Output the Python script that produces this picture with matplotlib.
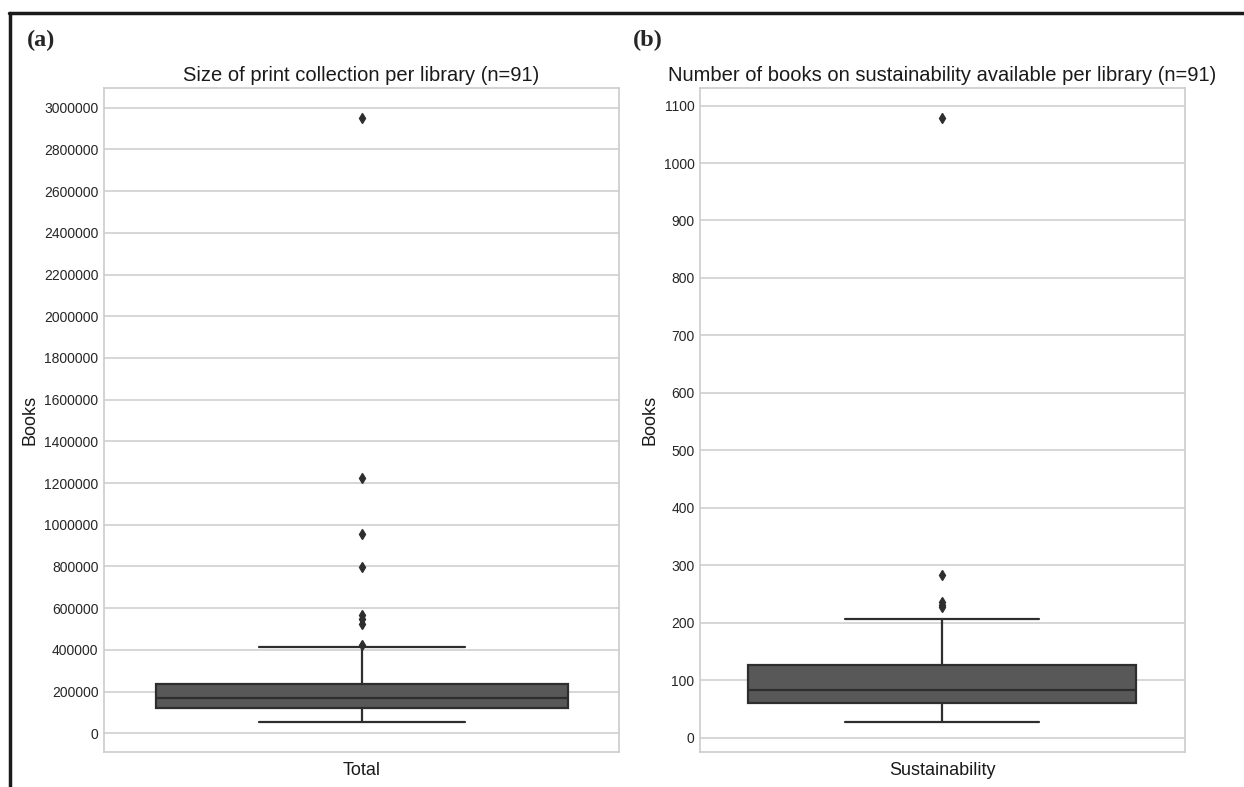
import matplotlib
matplotlib.use('Agg')
import matplotlib.pyplot as plt
from matplotlib.lines import Line2D
import seaborn as sns

sns.set_style('whitegrid')
plt.rcParams['font.family'] = ['Liberation Sans', 'DejaVu Sans']

# Box statistics
total_label = 'Total'
total_q1, total_med, total_q3 = 121000, 171000, 237000
total_whislo, total_whishi = 55000, 414000
total_fliers = [425000, 525000, 548000, 568000, 798000, 955000, 1223000, 2950000]
total_ticks = list(range(0, 3000001, 200000))

sust_label = 'Sustainability'
sust_q1, sust_med, sust_q3 = 60, 84, 126
sust_whislo, sust_whishi = 28, 206
sust_fliers = [228, 232, 236, 283, 1078]
sust_ticks = list(range(0, 1101, 100))

box_face = '#585858'
line_col = '#2e2e2e'

fig = plt.figure(figsize=(12.44, 7.87), dpi=100)
ax1 = fig.add_axes([0.0836, 0.0445, 0.4140, 0.8437])
ax2 = fig.add_axes([0.5627, 0.0445, 0.3898, 0.8437])


def draw_box(ax, label, q1, med, q3, lo, hi, fliers, ticks, title):
    stats = [dict(label=label, q1=q1, med=med, q3=q3, whislo=lo, whishi=hi, fliers=fliers)]
    ax.bxp(stats, positions=[0], widths=0.8, patch_artist=True, showfliers=True,
           boxprops=dict(facecolor=box_face, edgecolor=line_col, linewidth=1.6),
           medianprops=dict(color=line_col, linewidth=1.6),
           whiskerprops=dict(color=line_col, linewidth=1.6),
           capprops=dict(color=line_col, linewidth=1.6),
           flierprops=dict(marker='d', markerfacecolor=line_col, markeredgecolor=line_col,
                           markersize=5.5, linestyle='none'))
    ax.set_xlim(-0.5, 0.5)
    allv = [lo, hi] + fliers
    rng = max(allv) - min(allv)
    ax.set_ylim(min(allv) - 0.05 * rng, max(allv) + 0.05 * rng)
    ax.set_yticks(ticks)
    ax.set_yticklabels([str(t) for t in ticks], fontsize=10, color='#262626')
    ax.tick_params(axis='x', labelsize=13, colors='#1a1a1a', length=0, pad=7)
    ax.tick_params(axis='y', length=0, pad=4)
    ax.xaxis.grid(False)
    ax.yaxis.grid(True, color='#cccccc', linewidth=1.1)
    for s in ax.spines.values():
        s.set_color('#cccccc')
        s.set_linewidth(1.2)
    ax.set_ylabel('Books', fontsize=13, color='#1a1a1a')
    ax.set_title(title, fontsize=14.5, color='#1a1a1a', pad=5)


draw_box(ax1, total_label, total_q1, total_med, total_q3, total_whislo, total_whishi,
         total_fliers, total_ticks, 'Size of print collection per library (n=91)')
draw_box(ax2, sust_label, sust_q1, sust_med, sust_q3, sust_whislo, sust_whishi,
         sust_fliers, sust_ticks, 'Number of books on sustainability available per library (n=91)')

# panel letters
fig.text(0.022, 0.948, '(a)', fontsize=17.5, fontweight='bold', family='Liberation Serif', va='center')
fig.text(0.509, 0.948, '(b)', fontsize=17.5, fontweight='bold', family='Liberation Serif', va='center')

# outer frame (top and left edges only, as in the source image)
fig.add_artist(Line2D([0.0075, 1.0], [0.9835, 0.9835], color='#1a1a1a', linewidth=2.5,
                      transform=fig.transFigure))
fig.add_artist(Line2D([0.0078, 0.0078], [0.0, 0.9835], color='#1a1a1a', linewidth=2.5,
                      transform=fig.transFigure))

fig.savefig('out.png', dpi=100)
